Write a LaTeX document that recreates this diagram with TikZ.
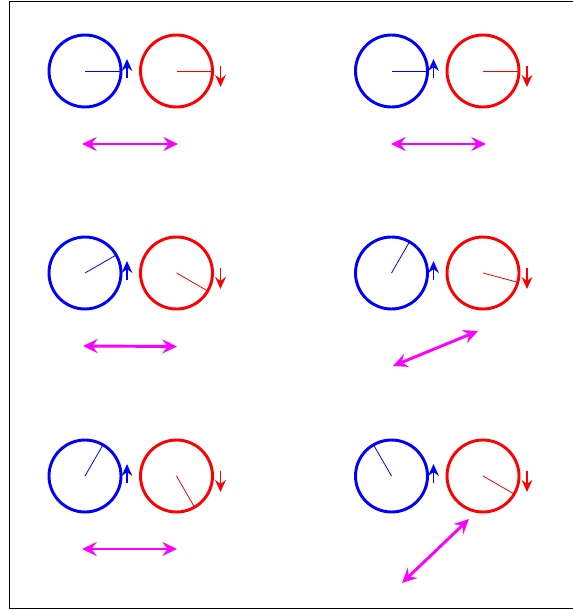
\documentclass[tikz,border=0pt]{standalone}
\usetikzlibrary{arrows.meta,calc}
\definecolor{mag}{RGB}{255,0,255}
\definecolor{pblue}{RGB}{0,0,255}
\definecolor{pred}{RGB}{255,0,0}
\begin{document}
\begin{tikzpicture}[x=0.75pt,y=0.75pt,
  ring/.style={circle,draw,line width=2.2pt,minimum size=54pt,inner sep=0pt},
  spoke/.style={line width=0.6pt},
  spin/.style={line width=1.2pt,-{Stealth[length=9pt,width=8pt,inset=3pt]}},
  pol/.style={draw=mag,line width=2.2pt,
    {Stealth[length=11pt,width=10.5pt,inset=4pt]}-{Stealth[length=11pt,width=10.5pt,inset=4pt]}}]
\useasboundingbox (0,0) rectangle (573,-610);
\draw[line width=0.8pt] (9.5,-1.5) rectangle (600,-608.5);
\foreach \n/\cx/\cy/\ab/\ar in {1/0/0/0/0, 2/306.5/0/0/0, 3/0/202/30/-30, 4/306.5/202/60/-15, 5/0/405/60/-60, 6/306.5/405/120/-30}{
  \node[ring,draw=pblue] (B\n) at (85+\cx,-71-\cy) {};
  \node[ring,draw=pred] (R\n) at (176.5+\cx,-71-\cy) {};
  \draw[spoke,pblue] (B\n.center) -- ++(\ab:36);
  \draw[spoke,pred] (R\n.center) -- ++(\ar:36);
  \coordinate (bt\n) at ($(B\n.center)+(42,-7)$);
  \coordinate (bh\n) at ($(B\n.center)+(42,12)$);
  \coordinate (rt\n) at ($(R\n.center)+(44,5)$);
  \coordinate (rh\n) at ($(R\n.center)+(44,-16)$);
  \draw[spin,pblue] (bt\n) -- (bh\n);
  \draw[spin,pred] (rt\n) -- (rh\n);
}
\foreach \n/\xa/\ya/\xb/\yb in {1/82/144/178/144, 2/391/144/486/144, 3/83/346/177/346.5, 4/393/366/478/331, 5/82/549/177/549, 6/402/583/469/519}{
  \coordinate (pa\n) at (\xa,-\ya);
  \coordinate (pb\n) at (\xb,-\yb);
  \draw[pol] (pa\n) -- (pb\n);
}
\end{tikzpicture}
\end{document}
